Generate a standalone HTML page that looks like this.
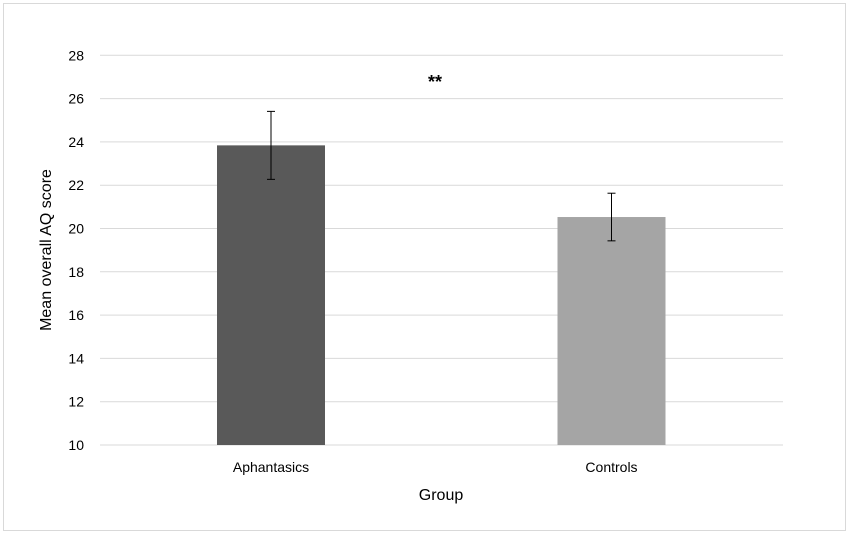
<!DOCTYPE html>
<html><head><meta charset="utf-8"><style>
html,body{margin:0;padding:0;background:#fff;}
svg{display:block;font-family:"Liberation Sans",Arial,sans-serif;}
</style></head><body>
<svg id="chart" width="850" height="535">
<rect x="3.5" y="3.5" width="842" height="527" fill="#fff" stroke="#d9d9d9"/>
<g id="grid"></g><g id="bars"></g><g id="labels"></g>
<text x="435" y="88" font-size="18" font-weight="bold" text-anchor="middle" fill="#000">**</text>
<text x="441" y="500" font-size="16" text-anchor="middle" fill="#000">Group</text>
<text transform="translate(51,250) rotate(-90)" font-size="16" text-anchor="middle" fill="#000">Mean overall AQ score</text>
</svg>
<script>
const categories=["Aphantasics","Controls"];
const values=[23.84,20.53];
const errors=[1.57,1.1];
const yTicks=[10,12,14,16,18,20,22,24,26,28];
const colors=["#595959","#a5a5a5"];
const ns="http://www.w3.org/2000/svg";
const y0=445,pxPer=21.65,yMin=10;
function yS(v){return y0-(v-yMin)*pxPer;}
const centers=[271,611.5],bw=108;
function mk(tag,attrs,parent){const e=document.createElementNS(ns,tag);for(const k in attrs)e.setAttribute(k,attrs[k]);parent.appendChild(e);return e;}
const g=document.getElementById('grid'),b=document.getElementById('bars'),l=document.getElementById('labels');
yTicks.forEach(t=>{
 const ln=mk('line',{x1:100,x2:783,y1:yS(t),y2:yS(t),stroke:'#d9d9d9','stroke-width':1},g);
 
 
 const tx=mk('text',{x:84,y:yS(t)+5,'font-size':14,'text-anchor':'end',fill:'#000'},l);
 tx.textContent=t;
 
 
});
categories.forEach((c,i)=>{
 const cx=centers[i];
 const r=mk('rect',{x:cx-bw/2,y:yS(values[i]),width:bw,height:y0-yS(values[i]),fill:colors[i]},b);
 
 
 const eg=mk('g',{stroke:'#000','stroke-width':1},b);
 
 
 const hi=yS(values[i]+errors[i]),lo=yS(values[i]-errors[i]);
 mk('line',{x1:cx,x2:cx,y1:hi,y2:lo},eg);
 mk('line',{x1:cx-4,x2:cx+4,y1:hi,y2:hi},eg);
 mk('line',{x1:cx-4,x2:cx+4,y1:lo,y2:lo},eg);
 const tx=mk('text',{x:cx,y:472,'font-size':14,'text-anchor':'middle',fill:'#000'},l);
 tx.textContent=c;
 
 
});
</script>
</body></html>
